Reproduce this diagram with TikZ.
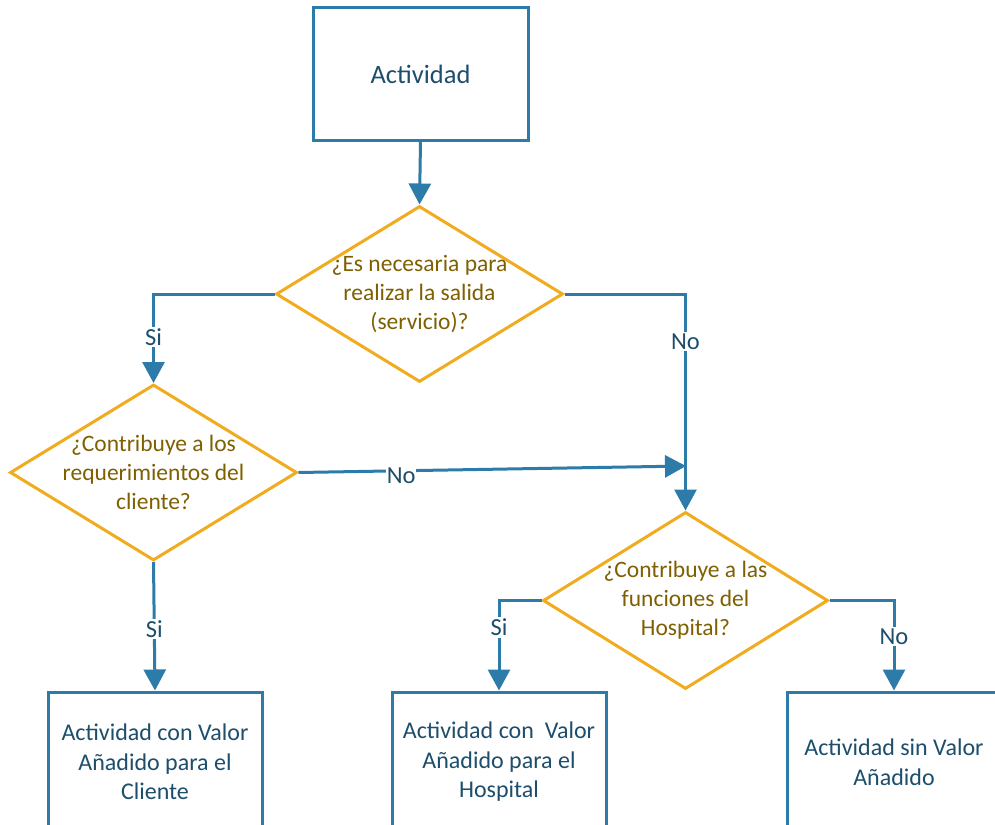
\documentclass[tikz,border=0pt]{standalone}
\usepackage{fontspec}
\setmainfont{Carlito}
\usetikzlibrary{shapes.geometric,arrows.meta}
\definecolor{flowblue}{HTML}{2C7BA8}
\definecolor{navytext}{HTML}{1D4E6C}
\definecolor{gold}{HTML}{F0AC1E}
\definecolor{goldtext}{HTML}{7F6000}
\tikzset{
  procbox/.style={draw=flowblue, line width=3pt, rectangle, fill=white,
    text=navytext, align=center, minimum width=214pt, minimum height=140pt,
    inner sep=0pt, font=\fontsize{24}{29.5}\selectfont},
  decision/.style={draw=gold, line width=3pt, diamond, fill=white,
    inner sep=0pt, minimum width=287pt, minimum height=176pt},
  qtext/.style={text=goldtext, align=center, font=\fontsize{23.5}{29}\selectfont},
  flow/.style={draw=flowblue, line width=3pt,
    -{Triangle[length=21pt,width=22pt]}},
  lbl/.style={fill=white, text=navytext, inner sep=1.5pt,
    font=\fontsize{24.5}{28}\selectfont}
}
\begin{document}
\begin{tikzpicture}[x=1pt,y=-1pt]
  \useasboundingbox (0,0) rectangle (995,824);
  \clip (0,0) rectangle (995,824);

  % start
  \node[procbox, minimum width=215pt, minimum height=132pt,
        font=\fontsize{26.5}{31}\selectfont] (act) at (420.5,74) {Actividad};

  % decisions
  \node[decision, label={[qtext]center:{¿Es necesaria para\\realizar la salida\\(servicio)?}}]
        (d1) at (419.5,294) {};
  \node[decision, label={[qtext]center:{¿Contribuye a los\\requerimientos del\\cliente?}}]
        (d2) at (153.5,472.5) {};
  \node[decision, minimum width=285pt, minimum height=177pt,
        label={[qtext]center:{¿Contribuye a las\\funciones del\\Hospital?}}]
        (d3) at (685.5,600.5) {};

  % outcomes
  \node[procbox] (b1) at (155,762) {Actividad con Valor\\Añadido para el\\Cliente};
  \node[procbox] (b2) at (499,762) {Actividad con\ \ Valor\\Añadido para el\\Hospital};
  \node[procbox] (b3) at (894,762) {Actividad sin Valor\\Añadido};

  % junction on the "No" branch
  \coordinate (j) at (686,466);

  % connectors
  \draw[flow] (act.south) -- (d1.north);
  \draw[flow] (d1.west) -| node[lbl, pos=0.74] {Si} (d2.north);
  \draw[flow] (d1.east) -| node[lbl, pos=0.61] {No} (d3.north);
  \draw[flow] (d2.east) -- node[lbl, pos=0.265, yshift=-5pt, inner sep=0.5pt] {No} (j);
  \draw[flow] (d2.south) -- node[lbl, pos=0.52] {Si} (b1.north);
  \draw[flow] (d3.west) -| node[lbl, pos=0.65] {Si} (b2.north);
  \draw[flow] (d3.east) -| node[lbl, pos=0.70] {No} (b3.north);
\end{tikzpicture}
\end{document}
